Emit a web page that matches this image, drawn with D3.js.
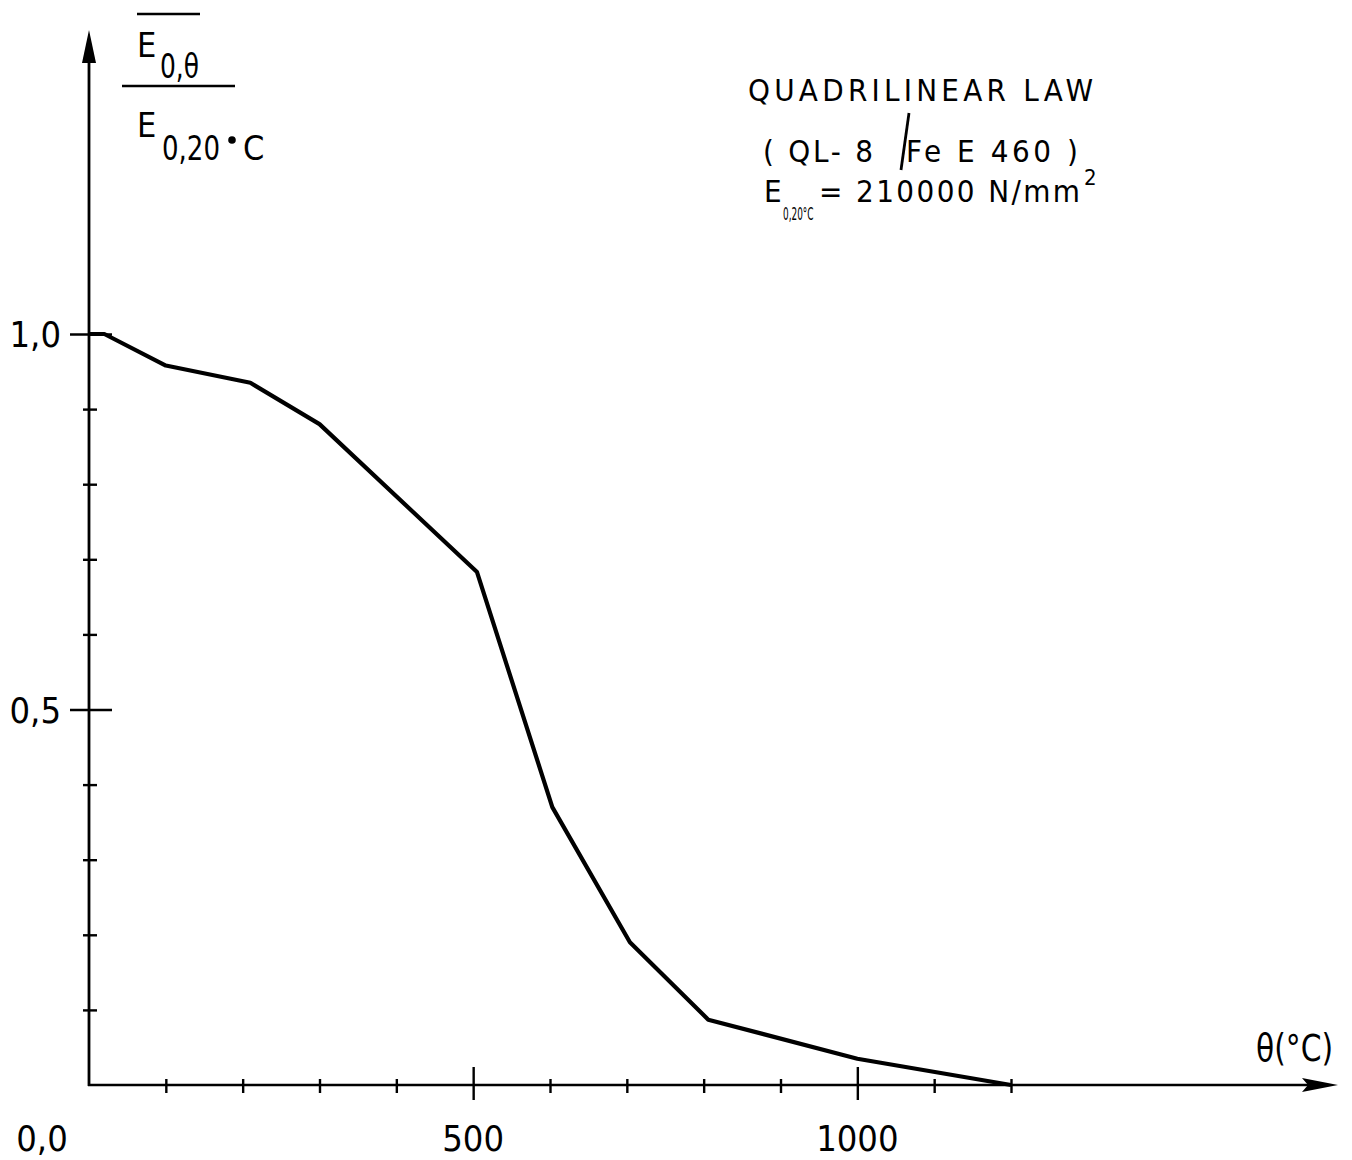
<!DOCTYPE html>
<html><head><meta charset="utf-8">
<script src="https://cdn.jsdelivr.net/npm/d3@7"></script>
<style>body{margin:0;background:#fff}svg{display:block}</style>
</head><body><svg id="c" width="1352" height="1160"></svg>
<script>
// ---- data ----
const temperatures = [0, 20, 100, 210, 300, 505, 603, 704, 806, 1000, 1200];
const modulusRatio = [1.0, 1.0, 0.958, 0.935, 0.88, 0.683, 0.37, 0.19, 0.087, 0.035, 0.0];
const xTickValues = [100, 200, 300, 400, 500, 600, 700, 800, 900, 1000, 1100, 1200];
const xMajorTicks = [500, 1000];
const xTickLabels = ["500", "1000"];
const yTickValues = [0.1, 0.2, 0.3, 0.4, 0.5, 0.6, 0.7, 0.8, 0.9, 1.0];
const yMajorTicks = [0.5, 1.0];
const yTickLabels = ["0,5", "1,0"];
const originLabel = "0,0";
const xAxisTitle = "θ(°C)";
const titleLines = ["QUADRILINEAR  LAW", "( QL- 8", "Fe E 460 )", "= 210000 N/mm"];

const FONT = "'Liberation Sans Narrow','DejaVu Sans Condensed','Liberation Sans',sans-serif";
const svg = d3.select("#c");
const x = d3.scaleLinear().domain([0, 1200]).range([89, 1011]);
const y = d3.scaleLinear().domain([0, 1]).range([1085, 334]);

// ---- axes ----
const axX = svg.append("g").attr("transform", "translate(0,1085)")
  .call(d3.axisBottom(x).tickValues(xTickValues).tickFormat("").tickSizeOuter(0));
axX.select(".domain").remove();
axX.selectAll(".tick line").attr("stroke", "#000").attr("stroke-width", 2.4)
  .attr("y1", d => xMajorTicks.includes(d) ? -18 : -6)
  .attr("y2", d => xMajorTicks.includes(d) ? 15 : 8);

const axY = svg.append("g").attr("transform", "translate(89,0)")
  .call(d3.axisLeft(y).tickValues(yTickValues).tickFormat("").tickSizeOuter(0));
axY.select(".domain").remove();
axY.selectAll(".tick line").attr("stroke", "#000").attr("stroke-width", 2.4)
  .attr("x1", d => yMajorTicks.includes(d) ? -19 : -6)
  .attr("x2", d => yMajorTicks.includes(d) ? 23 : 8);

// axis lines with arrows
svg.append("line").attr("x1", 89).attr("y1", 1086).attr("x2", 89).attr("y2", 60)
  .attr("stroke", "#000").attr("stroke-width", 2.8);
svg.append("path").attr("d", "M89,30 L82,63 L96,63 Z").attr("fill", "#000");
svg.append("line").attr("x1", 88).attr("y1", 1085).attr("x2", 1310).attr("y2", 1085)
  .attr("stroke", "#000").attr("stroke-width", 2.6);
svg.append("path").attr("d", "M1338,1085 L1302,1078 L1308,1085 L1302,1092 Z").attr("fill", "#000");

// ---- tick labels ----
svg.selectAll(".xl").data(xMajorTicks).enter().append("text")
  .attr("x", d => x(d)).attr("y", 1151).attr("text-anchor", "middle")
  .attr("font-family", FONT).attr("font-size", 36).text((d, i) => xTickLabels[i]);
svg.append("text").attr("x", x(0) - 47).attr("y", 1151).attr("text-anchor", "middle")
  .attr("font-family", FONT).attr("font-size", 36).text(originLabel);
svg.selectAll(".yl").data(yMajorTicks).enter().append("text")
  .attr("x", 61).attr("y", d => y(d) + 13).attr("text-anchor", "end")
  .attr("font-family", FONT).attr("font-size", 36).text((d, i) => yTickLabels[i]);

// ---- curve ----
const pts = temperatures.map((t, i) => [t, modulusRatio[i]]);
svg.append("path").datum(pts)
  .attr("d", d3.line().x(d => x(d[0])).y(d => y(d[1])))
  .attr("fill", "none").attr("stroke", "#000").attr("stroke-width", 4.2)
  .attr("stroke-linejoin", "round");

// ---- y axis label (fraction) ----
const t = (xx, yy, s, fs, len, adj) => {
  const e = svg.append("text").attr("x", xx).attr("y", yy).attr("font-family", FONT)
    .attr("font-size", fs).text(s);
  if (len) e.attr("textLength", len).attr("lengthAdjust", adj || "spacingAndGlyphs");
  return e;
};
svg.append("line").attr("x1", 137).attr("x2", 200).attr("y1", 14).attr("y2", 14)
  .attr("stroke", "#000").attr("stroke-width", 2.6);
t(137, 57, "E", 34);
t(160, 78, "0,θ", 34, 39);
svg.append("line").attr("x1", 122).attr("x2", 235).attr("y1", 86).attr("y2", 86)
  .attr("stroke", "#000").attr("stroke-width", 2.6);
t(137, 137, "E", 34);
t(162, 160, "0,20", 34, 58);
svg.append("circle").attr("cx", 232).attr("cy", 140).attr("r", 3.8).attr("fill", "#000");
t(243, 160, "C", 34);

// ---- title block ----
t(748, 101, titleLines[0], 31, 345, "spacing");
t(763, 162, titleLines[1], 31, 110, "spacing");
svg.append("line").attr("x1", 909).attr("y1", 113).attr("x2", 901).attr("y2", 170)
  .attr("stroke", "#000").attr("stroke-width", 2.8);
t(906, 162, titleLines[2], 31, 172, "spacing");
t(764, 202, "E", 31);
svg.append("text").attr("transform", "translate(783,220) scale(0.55,1)")
  .attr("font-family", FONT).attr("font-size", 18).text("0,20°C");
t(819, 202, titleLines[3], 31, 261, "spacing");
t(1084, 185, "2", 22);

// ---- x axis title ----
t(1256, 1061, xAxisTitle, 37, 77);
</script></body></html>
